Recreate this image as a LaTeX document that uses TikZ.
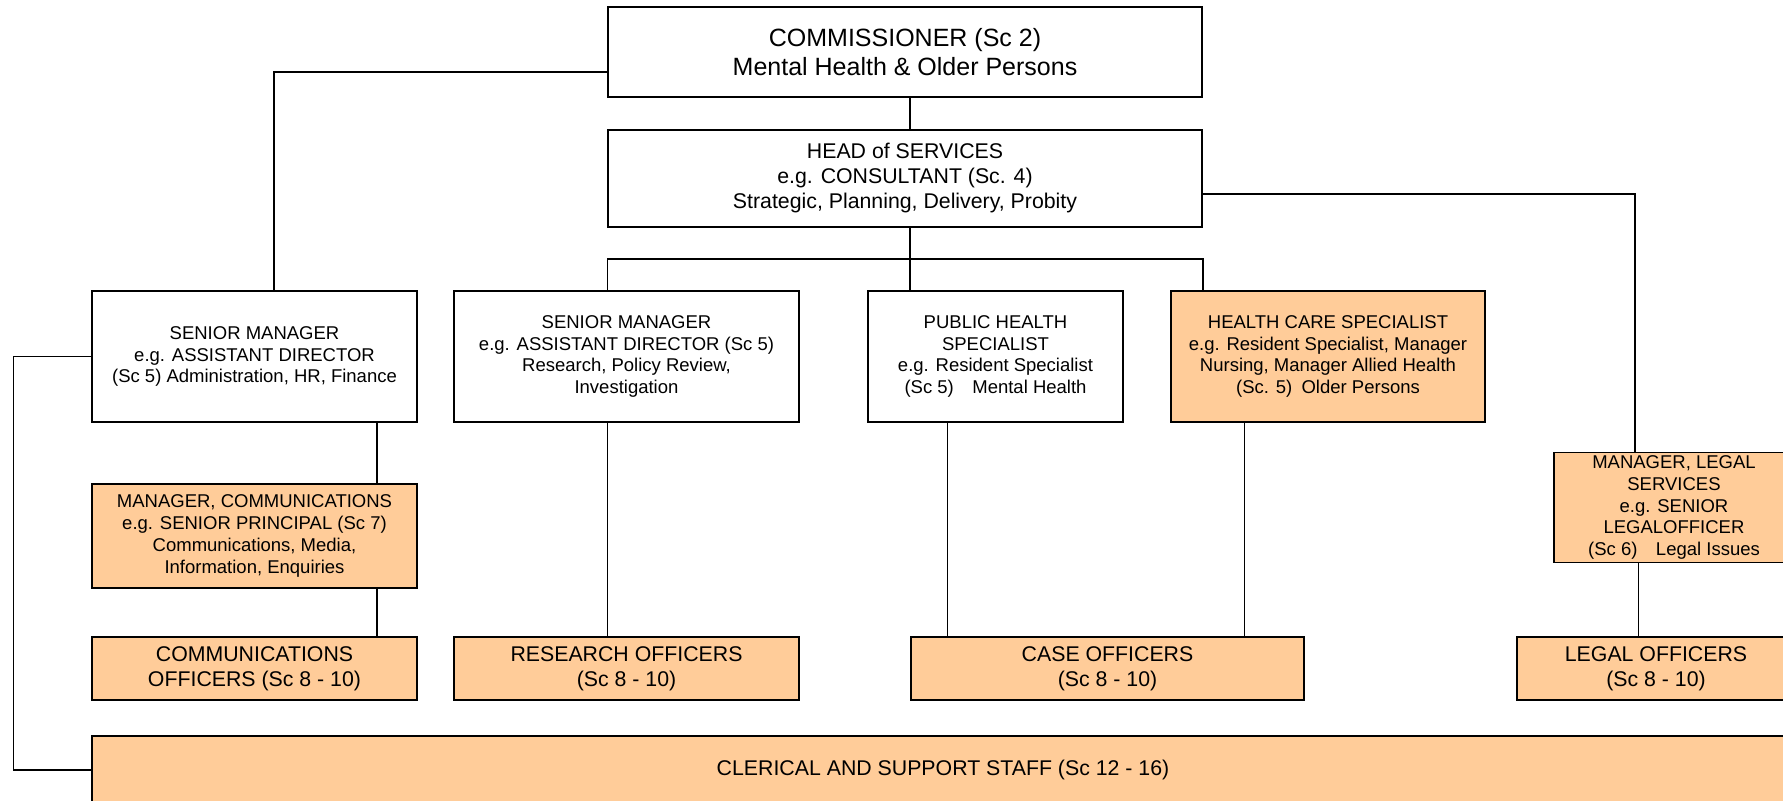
\documentclass[tikz,border=0pt]{standalone}
\usepackage{fontspec}
\setmainfont{Liberation Sans}
\usepackage{xcolor}
\usepackage{tikz}
\definecolor{peach}{HTML}{FFCC99}

\begin{document}
\begin{tikzpicture}[x=0.5pt, y=-0.5pt, line width=0.6pt,
		box/.style={draw, line width=0.9pt, align=center, inner sep=1pt},
		orgbox/.style={box, fill=peach},
		bigtext/.style={font=\fontsize{12.5}{14.7}\selectfont},
		midtext/.style={font=\fontsize{10.65}{12.5}\selectfont},
		smalltext/.style={font=\fontsize{9.25}{10.85}\selectfont}]
	\useasboundingbox (0,0) rectangle (1783,801);
	\clip (0,0) rectangle (1783,801);

	\node[box, bigtext, minimum width=297pt, minimum height=45pt] (comm) at (905,52)
		{COMMISSIONER (Sc 2)\\Mental Health \& Older Persons};
	\node[box, midtext, minimum width=297pt, minimum height=48.5pt] (head) at (905,178.5)
		{HEAD of SERVICES\\e.g. CONSULTANT (Sc. 4)\\Strategic, Planning, Delivery, Probity};

	\node[box, smalltext, minimum width=162.5pt, minimum height=65.5pt] (sm1) at (254.5,356.5)
		{SENIOR MANAGER\\e.g. ASSISTANT DIRECTOR\\(Sc 5) Administration, HR, Finance};
	\node[box, smalltext, minimum width=172.5pt, minimum height=65.5pt] (sm2) at (626.5,356.5)
		{SENIOR MANAGER\\e.g. ASSISTANT DIRECTOR (Sc 5)\\Research, Policy Review,\\Investigation};
	\node[box, smalltext, minimum width=127.5pt, minimum height=65.5pt] (ph) at (995.5,356.5)
		{PUBLIC HEALTH\\SPECIALIST\\e.g. Resident Specialist\\(Sc 5)\quad Mental Health};
	\node[orgbox, smalltext, minimum width=157pt, minimum height=65.5pt] (hc) at (1328,356.5)
		{HEALTH CARE SPECIALIST\\e.g. Resident Specialist, Manager\\Nursing, Manager Allied Health\\(Sc. 5)\enspace Older Persons};

	\node[orgbox, smalltext, minimum width=162.5pt, minimum height=52pt] (mc) at (254.5,536)
		{MANAGER, COMMUNICATIONS\\e.g. SENIOR PRINCIPAL (Sc 7)\\Communications, Media,\\Information, Enquiries};
	\node[orgbox, smalltext, minimum width=120pt, minimum height=55pt] (ml) at (1674,507.5)
		{MANAGER, LEGAL\\SERVICES\\e.g. SENIOR\\LEGALOFFICER\\(Sc 6)\quad Legal Issues};

	\node[orgbox, midtext, minimum width=162.5pt, minimum height=31.5pt] (co) at (254.5,668.5)
		{COMMUNICATIONS\\OFFICERS (Sc 8 - 10)};
	\node[orgbox, midtext, minimum width=172.5pt, minimum height=31.5pt] (ro) at (626.5,668.5)
		{RESEARCH OFFICERS\\(Sc 8 - 10)};
	\node[orgbox, midtext, minimum width=196.5pt, minimum height=31.5pt] (case) at (1107.5,668.5)
		{CASE OFFICERS\\(Sc 8 - 10)};
	\node[orgbox, midtext, minimum width=139pt, minimum height=31.5pt] (lo) at (1656,668.5)
		{LEGAL OFFICERS\\(Sc 8 - 10)};
	\node[orgbox, midtext, minimum width=851pt, minimum height=34pt] (cler) at (943,770)
		{CLERICAL AND SUPPORT STAFF (Sc 12 - 16)};

	\draw ([yshift=-10pt]comm.west) -| ([xshift=9.75pt]sm1.north);
	\draw ([xshift=2.5pt]comm.south) coordinate (cs) -- (cs |- head.north);
	\draw ([xshift=2.5pt]head.south) coordinate (hs) -- (hs |- ph.north);
	\draw (sm2.north -| head.west) -- ++(0,15.5pt) -| (hc.north -| head.east);
	\draw ([yshift=-7.75pt]head.east) -| ([xshift=-19.5pt]ml.north);
	\draw ([xshift=-20.5pt]sm1.south east) coordinate (a) -- (a |- mc.north);
	\draw ([xshift=-20.5pt]mc.south east) coordinate (b) -- (b |- co.north);
	\draw (sm2.south -| head.west) -- (ro.north -| head.west);
	\draw ([xshift=40pt]ph.south west) coordinate (c) -- (c |- case.north);
	\draw ([xshift=37pt]hc.south west) coordinate (d) -- (d |- case.north);
	\draw ([xshift=42.5pt]ml.south west) coordinate (e) -- (e |- lo.north);
	\draw (sm1.west) -- ++(-39pt,0) |- (cler.west);
\end{tikzpicture}
\end{document}
